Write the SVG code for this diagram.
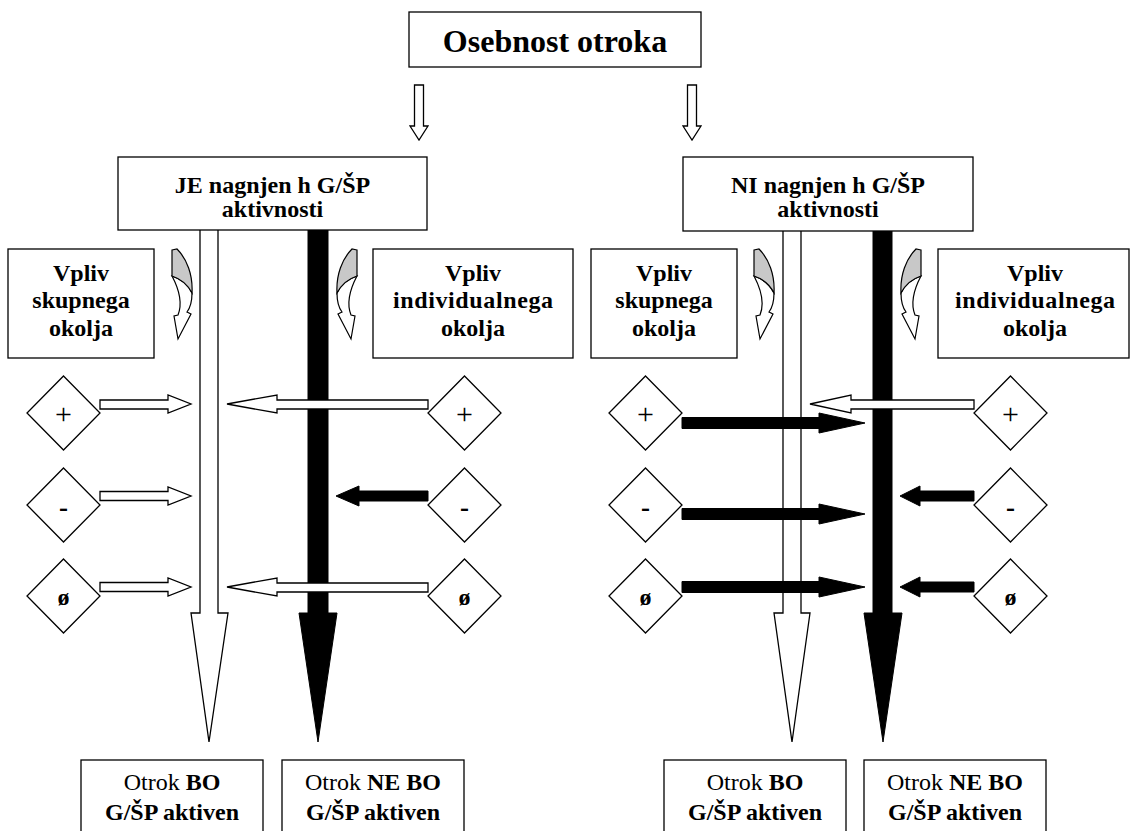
<svg xmlns="http://www.w3.org/2000/svg" width="1133" height="831" viewBox="0 0 1133 831">
<style>
.box{fill:#fff;stroke:#000;stroke-width:1.3}
.t{font-family:"Liberation Serif","Times New Roman",serif;font-weight:bold;font-size:24px;text-anchor:middle;fill:#000}
.n{font-weight:normal}
.pl{font-weight:normal;font-size:30px}
.wa{fill:#fff;stroke:#000;stroke-width:1.3;stroke-linejoin:miter}
.ba{fill:#000;stroke:#000;stroke-width:1}
.dm{fill:#fff;stroke:#000;stroke-width:1.3}
.gr{fill:#c8c8c8;stroke:#000;stroke-width:1.2}
.cw{fill:#fff;stroke:#000;stroke-width:1.2}
</style>
<defs>
<g id="curve">
<path class="cw" d="M0,27 C9,30 16,36 20,44 C20,53 18,59 15,63 L19,65 L6,90 L2,67 L6,66 C10,56 9,44 0,27 Z"/>
<path class="gr" d="M0,1 L5,0 C15,10 21,26 20,44 C16,36 9,30 0,27 Z"/>
</g>
</defs>
<g id="connectors">
<path class="wa" d="M414.5,85 H423.5 V126 H428 L419,140 L410,126 H414.5 Z"/>
<path class="wa" d="M687.5,85 H696.5 V126 H701 L692,140 L683,126 H687.5 Z"/>
<path class="wa" d="M200,229 L200,613 L191,613 L209,742 L228,613 L218,613 L218,229 Z"/>
<path class="ba" d="M308,229 L308,613 L299,613 L318,742 L337,613 L328,613 L328,229 Z"/>
<path class="wa" d="M783,230 L783,613 L774,613 L792,742 L810,613 L801,613 L801,230 Z"/>
<path class="ba" d="M873,230 L873,613 L864,613 L883,742 L902,613 L892,613 L892,230 Z"/>
<path class="wa" d="M100,400 H168 V395 L191,404 L168,413 V409 H100 Z"/>
<path class="wa" d="M100,491.5 H168 V487 L191,496 L168,505 V500.5 H100 Z"/>
<path class="wa" d="M100,582.5 H168 V578 L191,587 L168,596 V591.5 H100 Z"/>
<path class="wa" d="M428,400 H277 V395 L227,404 L277,413 V409 H428 Z"/>
<path class="ba" d="M428,491 H359 V486 L336,496 L359,506 V501 H428 Z"/>
<path class="wa" d="M428,583 H277 V578 L227,587 L277,596 V592 H428 Z"/>
<path class="ba" d="M682,417.5 H819 V413 L865,423 L819,433 V428.5 H682 Z"/>
<path class="ba" d="M682,508.5 H819 V504 L865,514 L819,524 V519.5 H682 Z"/>
<path class="ba" d="M682,581.5 H819 V577 L865,587 L819,597 V592.5 H682 Z"/>
<path class="wa" d="M974,400 H851 V395 L810,404 L851,413 V409 H974 Z"/>
<path class="ba" d="M974,491 H920 V486 L900,496 L920,506 V501 H974 Z"/>
<path class="ba" d="M974,582 H920 V577 L900,587 L920,597 V592 H974 Z"/>
<use href="#curve" transform="translate(172,249)"/>
<use href="#curve" transform="translate(357,249) scale(-1,1)"/>
<use href="#curve" transform="translate(754,249)"/>
<use href="#curve" transform="translate(921,249) scale(-1,1)"/>
</g>
<g id="top">
<rect class="box" x="409" y="12" width="292" height="55"/>
<text class="t" x="555" y="52" style="font-size:32px">Osebnost otroka</text>
</g>
<g id="je">
<rect class="box" x="118" y="157" width="309" height="73"/>
<text class="t" x="272.5" y="193">JE nagnjen h G/ŠP</text>
<text class="t" x="272.5" y="217">aktivnosti</text>
</g>
<g id="ni">
<rect class="box" x="683" y="157" width="290" height="74"/>
<text class="t" x="828" y="193">NI nagnjen h G/ŠP</text>
<text class="t" x="828" y="217">aktivnosti</text>
</g>
<g id="vpliv-skupnega-1">
<rect class="box" x="8" y="249" width="146" height="109"/>
<text class="t" x="81" y="281">Vpliv</text>
<text class="t" x="81" y="308">skupnega</text>
<text class="t" x="81" y="336">okolja</text>
</g>
<g id="vpliv-individualnega-1">
<rect class="box" x="373" y="249" width="200" height="109"/>
<text class="t" x="473" y="281">Vpliv</text>
<text class="t" x="473" y="308" textLength="160" lengthAdjust="spacing">individualnega</text>
<text class="t" x="473" y="336">okolja</text>
</g>
<g id="vpliv-skupnega-2">
<rect class="box" x="591" y="249" width="146" height="109"/>
<text class="t" x="664" y="281">Vpliv</text>
<text class="t" x="664" y="308">skupnega</text>
<text class="t" x="664" y="336">okolja</text>
</g>
<g id="vpliv-individualnega-2">
<rect class="box" x="938" y="249" width="191" height="109"/>
<text class="t" x="1035" y="281">Vpliv</text>
<text class="t" x="1035" y="308" textLength="160" lengthAdjust="spacing">individualnega</text>
<text class="t" x="1035" y="336">okolja</text>
</g>
<g id="d1p"><polygon class="dm" points="63.5,376 100,413 63.5,450 27,413"/><text class="t pl" x="63.5" y="424">+</text></g>
<g id="d1m"><polygon class="dm" points="63.5,468 100,505 63.5,542 27,505"/><text class="t" x="63.5" y="516" style="font-size:27px">-</text></g>
<g id="d1o"><polygon class="dm" points="63.5,559 100,596 63.5,633 27,596"/><text class="t" x="63.5" y="605">ø</text></g>
<g id="d2p"><polygon class="dm" points="464.5,376 501,413 464.5,450 428,413"/><text class="t pl" x="464.5" y="424">+</text></g>
<g id="d2m"><polygon class="dm" points="464.5,468 501,505 464.5,542 428,505"/><text class="t" x="464.5" y="516" style="font-size:27px">-</text></g>
<g id="d2o"><polygon class="dm" points="464.5,559 501,596 464.5,633 428,596"/><text class="t" x="464.5" y="605">ø</text></g>
<g id="d3p"><polygon class="dm" points="645.5,376 682,413 645.5,450 609,413"/><text class="t pl" x="645.5" y="424">+</text></g>
<g id="d3m"><polygon class="dm" points="645.5,468 682,505 645.5,542 609,505"/><text class="t" x="645.5" y="516" style="font-size:27px">-</text></g>
<g id="d3o"><polygon class="dm" points="645.5,559 682,596 645.5,633 609,596"/><text class="t" x="645.5" y="605">ø</text></g>
<g id="d4p"><polygon class="dm" points="1010.5,376 1047,413 1010.5,450 974,413"/><text class="t pl" x="1010.5" y="424">+</text></g>
<g id="d4m"><polygon class="dm" points="1010.5,468 1047,505 1010.5,542 974,505"/><text class="t" x="1010.5" y="516" style="font-size:27px">-</text></g>
<g id="d4o"><polygon class="dm" points="1010.5,559 1047,596 1010.5,633 974,596"/><text class="t" x="1010.5" y="605">ø</text></g>
<g id="out1">
<rect class="box" x="81" y="760" width="182" height="90"/>
<text class="t" x="172" y="790"><tspan class="n">Otrok </tspan>BO</text>
<text class="t" x="172" y="820">G/ŠP aktiven</text>
</g>
<g id="out2">
<rect class="box" x="282" y="760" width="182" height="90"/>
<text class="t" x="373" y="790"><tspan class="n">Otrok </tspan>NE BO</text>
<text class="t" x="373" y="820">G/ŠP aktiven</text>
</g>
<g id="out3">
<rect class="box" x="664" y="760" width="182" height="90"/>
<text class="t" x="755" y="790"><tspan class="n">Otrok </tspan>BO</text>
<text class="t" x="755" y="820">G/ŠP aktiven</text>
</g>
<g id="out4">
<rect class="box" x="864" y="760" width="182" height="90"/>
<text class="t" x="955" y="790"><tspan class="n">Otrok </tspan>NE BO</text>
<text class="t" x="955" y="820">G/ŠP aktiven</text>
</g>
</svg>
